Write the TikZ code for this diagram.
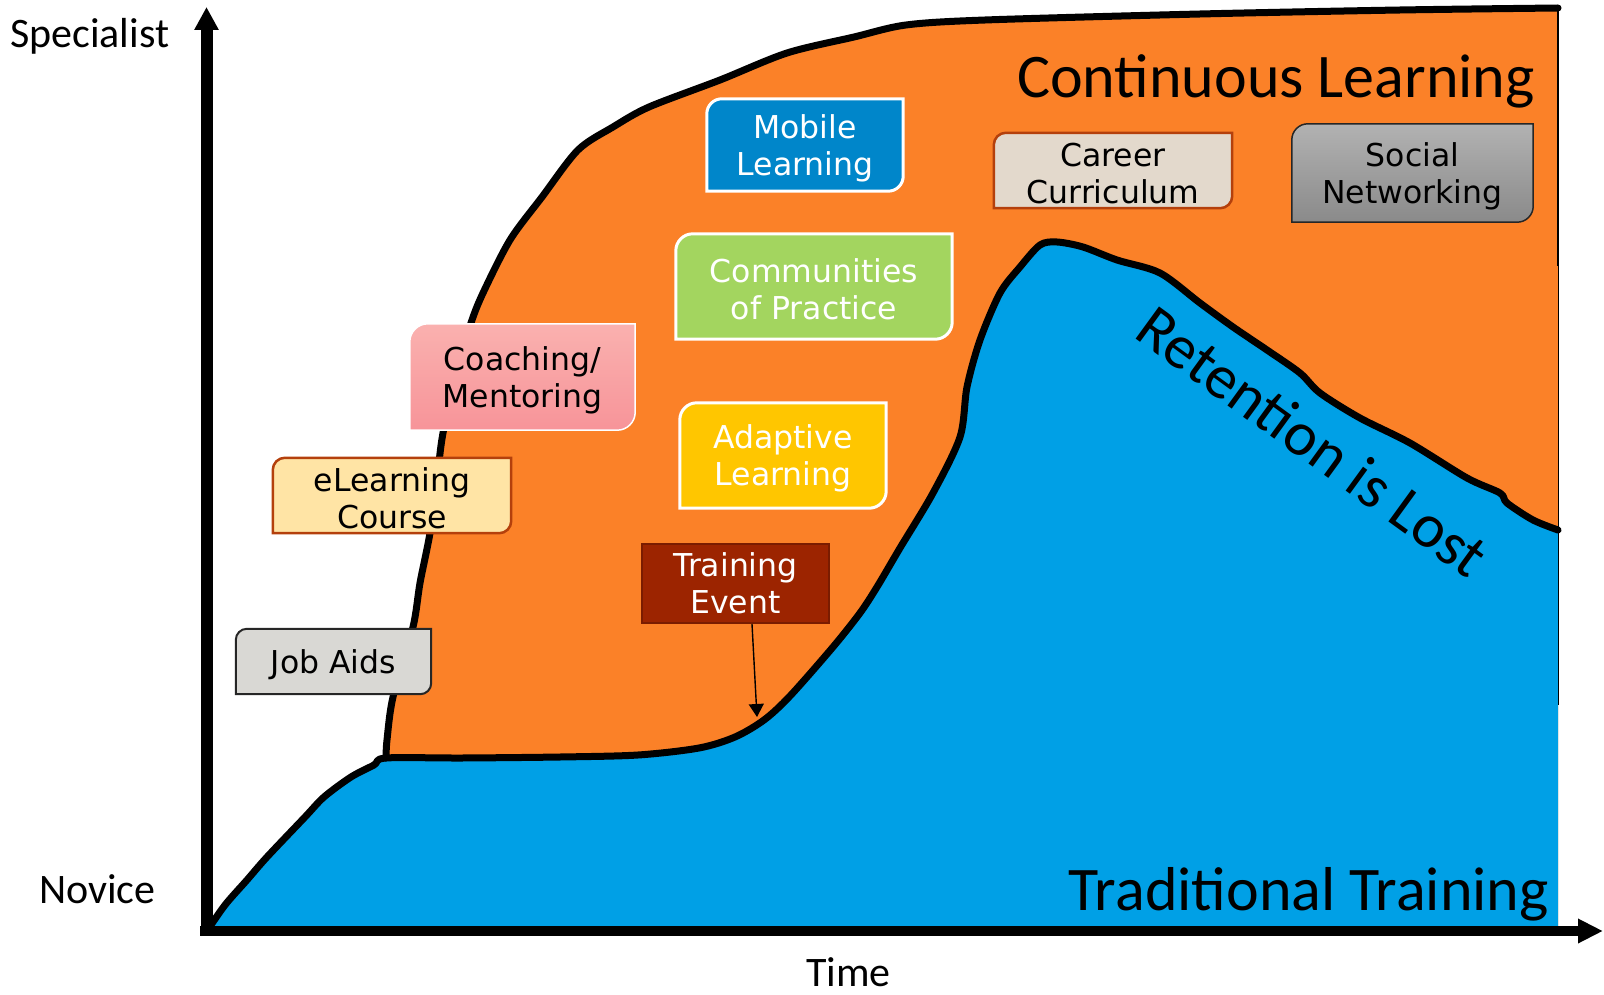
\documentclass[tikz,border=0pt]{standalone}
\usepackage{fontspec}
\setmainfont{Carlito}
\newfontfamily\boxfont{DejaVu Sans}
\usetikzlibrary{arrows.meta,calc,backgrounds}

\definecolor{learnorange}{HTML}{FB8128}
\definecolor{trainblue}{HTML}{00A0E6}
\definecolor{mobileblue}{HTML}{0086CA}
\definecolor{practgreen}{HTML}{A3D55F}
\definecolor{adaptyellow}{HTML}{FFC600}
\definecolor{eventred}{HTML}{9C2400}
\definecolor{eventline}{HTML}{7A1C00}
\definecolor{rust}{HTML}{B4400C}
\definecolor{aidgray}{HTML}{D9D8D4}
\definecolor{elearnyellow}{HTML}{FFE4A5}
\definecolor{careerbeige}{HTML}{E3D9CC}
\definecolor{pinktop}{HTML}{FAB1AF}
\definecolor{pinkbot}{HTML}{F79499}
\definecolor{graytop}{HTML}{B2B2B2}
\definecolor{graybot}{HTML}{8A8A8A}

% outline of a box, top left and bottom right corners rounded
% (drawn 3pt above the node, whose text sits a little low)
\newcommand\diagpath[2]{%
  ($([yshift=3pt]#1.north west)+(0,#2)$)
  .. controls ($([yshift=3pt]#1.north west)+(0,.45*#2)$) and ($([yshift=3pt]#1.north west)+(.45*#2,0)$)
  .. ($([yshift=3pt]#1.north west)+(#2,0)$)
  -- ([yshift=3pt]#1.north east) -- ($([yshift=3pt]#1.south east)+(0,-#2)$)
  .. controls ($([yshift=3pt]#1.south east)+(0,-.45*#2)$) and ($([yshift=3pt]#1.south east)+(-.45*#2,0)$)
  .. ($([yshift=3pt]#1.south east)+(-#2,0)$)
  -- ([yshift=3pt]#1.south west) -- cycle}

% the two learning curves
\def\riseline{plot[smooth,tension=.5] coordinates {(207,931) (225,905) (247,880) (267,857)
  (305,817) (324,797) (351,777) (374,765) (386,758) (462,758) (560,757) (638,755) (699,748)
  (735,737) (764,720) (790,696) (833,647) (860,613) (877,587) (900,548) (933,493) (960,437)
  (967,387) (980,340) (1000,293) (1020,267) (1040,245) (1057,242) (1083,247) (1117,260)
  (1160,273) (1200,303) (1233,327) (1267,350) (1300,373) (1320,393) (1360,418) (1410,443)
  (1467,478) (1500,493) (1507,503) (1533,520) (1558,530)}}
\def\learnline{plot[smooth,tension=.5] coordinates {(386,758) (387,740) (393,697) (413,627)
  (420,583) (430,533) (437,480) (443,433) (458,368) (471,323) (483,293) (510,240) (542,197)
  (578,150) (613,127) (649,107) (720,80) (787,53) (854,37) (906,25) (985,20) (1200,14)
  (1400,10) (1558,8)}}

\begin{document}
\begin{tikzpicture}[x=1pt,y=-1pt]
  \tikzset{
    tiletext/.style = {inner sep=0pt, align=center, font=\boxfont\fontsize{31.5}{37}\selectfont},
    tile/.style = {tiletext, yshift=-3pt},
    aidtile/.style = {fill=aidgray, draw=black!85, line width=2pt},
    elearntile/.style = {fill=elearnyellow, draw=rust, line width=2.5pt},
    careertile/.style = {fill=careerbeige, draw=rust, line width=2.5pt},
    coachtile/.style = {top color=pinktop, bottom color=pinkbot, draw=white, line width=1.5pt},
    mobiletile/.style = {fill=mobileblue, draw=white, line width=3pt},
    coptile/.style = {fill=practgreen, draw=white, line width=3pt},
    adapttile/.style = {fill=adaptyellow, draw=white, line width=3pt},
    socialtile/.style = {top color=graytop, bottom color=graybot, draw=black!85, line width=1.5pt},
    eventbox/.style = {tiletext, text=white, fill=eventred, draw=eventline, line width=2pt},
    curve/.style = {line width=7pt, line join=round, line cap=round},
    axislabel/.style = {inner sep=0pt, font=\fontsize{42}{50}\selectfont},
    biglabel/.style = {inner sep=0pt, font=\fontsize{62}{70}\selectfont},
    axis/.style = {line width=#1}
  }
  \useasboundingbox (0,0) rectangle (1604,995);

  % boxes along the curve
  \node[tile, minimum width=195pt, minimum height=65pt] (aids) at (333.5,661.5) {Job Aids};
  \node[tile, minimum width=238pt, minimum height=75pt] (elearn) at (392,495.5) {eLearning\\Course};
  \node[tile, minimum width=225pt, minimum height=106pt] (coach) at (522.5,377) {Coaching/\\Mentoring};
  \node[tile, text=white, minimum width=196pt, minimum height=92pt] (mobile) at (805,145) {Mobile\\Learning};
  \node[tile, text=white, minimum width=276pt, minimum height=105pt] (cop) at (814,286.5) {Communities\\of Practice};
  \node[tile, text=white, minimum width=206pt, minimum height=105pt] (adapt) at (783,455.5) {Adaptive\\Learning};
  \node[eventbox, minimum width=187pt, minimum height=79pt] (event) at (735.5,583.5) {Training\\Event};
  \node[tile, minimum width=238pt, minimum height=75pt] (career) at (1113,170.5) {Career\\Curriculum};
  \node[tile, minimum width=241pt, minimum height=98pt] (social) at (1412.5,173) {Social\\Networking};

  \begin{scope}[on background layer]
    % areas under the curves
    \fill[learnorange] \learnline -- (1558,931) -- (386,931) -- cycle;
    \fill[trainblue] \riseline -- (1558,931) -- cycle;
    \draw[curve] \riseline;
    \draw[curve] \learnline;
    \draw[line width=2.5pt] (1558,8) -- (1558,266);
    \draw[line width=1pt] (1558,266) -- (1558,705);
    \foreach \n/\r/\s in {aids/11/aidtile, elearn/12/elearntile, coach/18/coachtile,
        mobile/15/mobiletile, cop/17/coptile, adapt/17/adapttile,
        career/12/careertile, social/16/socialtile}
      \path[\s] \diagpath{\n}{\r};
  \end{scope}

  % training event pointer
  \coordinate (evtip) at (757,717);
  \draw[line width=1.4pt, -{Triangle[length=13pt,width=15pt]}] ([xshift=16.5pt]event.south) -- (evtip);

  % axes
  \coordinate (origin) at (206.5,936);
  \coordinate (ytip) at (206.5,7);
  \coordinate (xstart) at (200,931);
  \coordinate (xtip) at (1603,931);
  \draw[axis=12pt, -{Triangle[length=23pt,width=23pt]}] (origin) -- (ytip);
  \draw[axis=10pt, -{Triangle[length=25pt,width=23pt]}] (xstart) -- (xtip);

  % labels
  \node[axislabel, anchor=base west] (spec) at (10,48) {Specialist};
  \node[axislabel, anchor=base west] (nov) at (39,903) {Novice};
  \node[axislabel, anchor=base west] (time) at (806,986) {Time};
  \node[biglabel, anchor=base east] (cont) at (1535,98) {Continuous Learning};
  \node[biglabel, anchor=base east] (trad) at (1549,910) {Traditional Training};
  \node[biglabel, rotate=-36] (lost) at (1313,441) {Retention is Lost};
\end{tikzpicture}
\end{document}
